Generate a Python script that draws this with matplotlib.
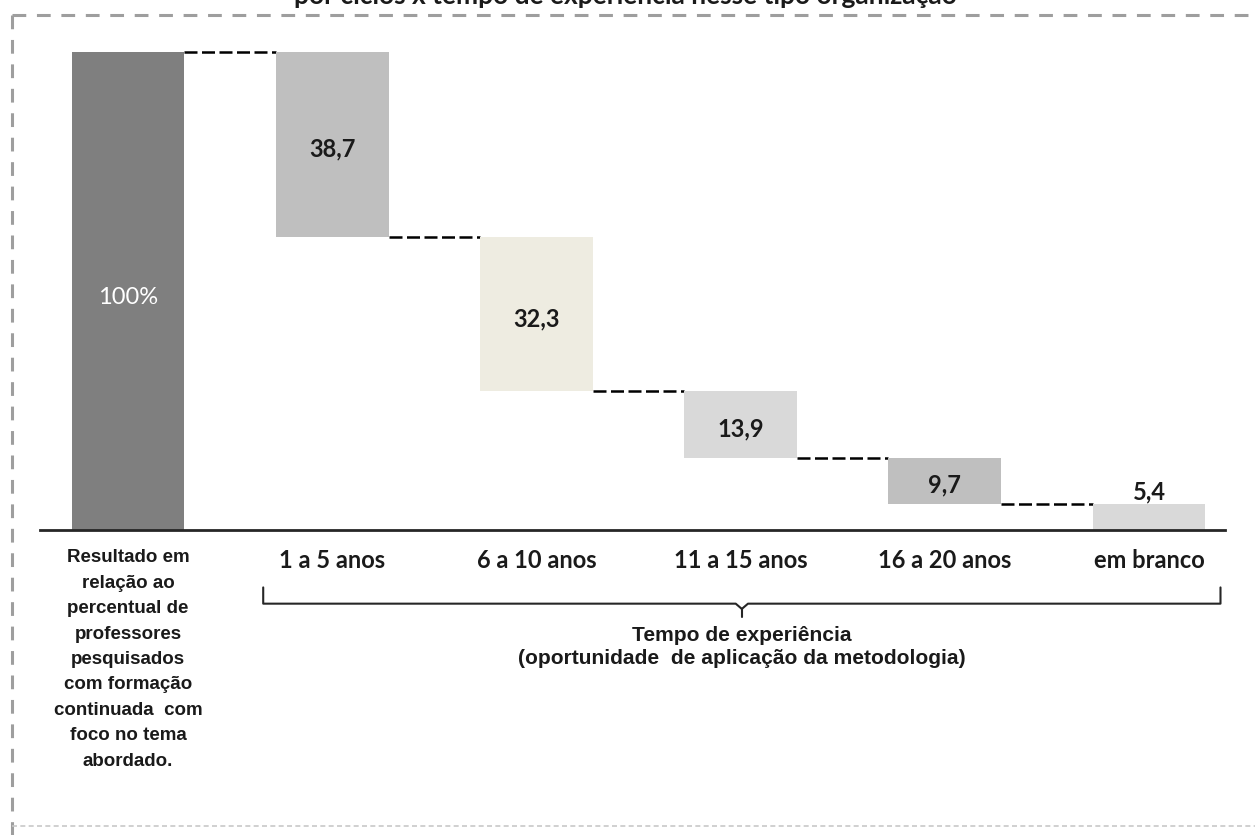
import matplotlib
matplotlib.use("Agg")
import matplotlib.pyplot as plt
from matplotlib.lines import Line2D

# --- data -------------------------------------------------------------
categories = ["Resultado em\nrelação ao\npercentual de\nprofessores\npesquisados\ncom formação\ncontinuada  com\nfoco no tema\nabordado.",
              "1 a 5 anos", "6 a 10 anos", "11 a 15 anos", "16 a 20 anos", "em branco"]
total = 100
steps = [38.7, 32.3, 13.9, 9.7, 5.4]
step_labels = ["38,7", "32,3", "13,9", "9,7", "5,4"]
bar_colors = ["#7f7f7f", "#bfbfbf", "#eeece1", "#d9d9d9", "#bfbfbf", "#d9d9d9"]
group_title = "Tempo de experiência\n(oportunidade  de aplicação da metodologia)"
title = "por ciclos x tempo de experiência nesse tipo organização"

W, H = 1255, 835
fig = plt.figure(figsize=(W / 100, H / 100), dpi=100)
ax = fig.add_axes([0, 0, 1, 1])
ax.set_xlim(-0.627, 5.519)
ax.set_ylim(-63.8, 110.9)
ax.axis("off")

bw = 0.553
txt = "#1a1a1a"
sans = ["Liberation Sans", "DejaVu Sans"]
num = ["Lato", "DejaVu Sans"]

# total bar
ax.bar(0, total, width=bw, color=bar_colors[0], zorder=2)
ax.text(0, total / 2 - 1.3, "100%", color="white", ha="center", va="center",
        fontsize=17, family=num)

# descending steps
level = total
for i, (v, lab) in enumerate(zip(steps, step_labels), start=1):
    bottom = level - v
    ax.bar(i, v, bottom=bottom, width=bw, color=bar_colors[i], zorder=2)
    # connector from previous bar to this one
    ax.plot([i - 1 + bw / 2, i - bw / 2], [level, level], color="black",
            lw=1.8, dashes=(5.2, 1.8), zorder=1)
    if v < 8:
        ax.text(i, level + 2.6, lab, ha="center", va="center", fontsize=17,
                fontweight="bold", color=txt, family=num)
    else:
        ax.text(i, bottom + v / 2 - 0.9, lab, ha="center", va="center",
                fontsize=17, fontweight="bold", color=txt, family=num)
    level = bottom

# baseline
ax.plot([-0.431, 5.372], [0, 0], color="#262626", lw=2, zorder=3)

# category labels
ax.text(0, -4.0, categories[0], ha="center", va="top", fontsize=13.5,
        fontweight="bold", color=txt, family=sans, linespacing=1.65)
for i, c in enumerate(categories[1:], start=1):
    ax.text(i, -6.4, c, ha="center", va="center", fontsize=17,
            fontweight="bold", color=txt, family=num)

# brace spanning the experience categories
bx0, bx1 = 0.662, 5.35
bxm = (bx0 + bx1) / 2
by = -15.4
brace_kw = dict(color="#262626", lw=1.5, solid_joinstyle="round", solid_capstyle="round")
ax.plot([bx0, bx0, bxm - 0.03, bxm], [by + 3.4, by, by, by - 1.1], **brace_kw)
ax.plot([bxm, bxm + 0.03, bx1, bx1], [by - 1.1, by, by, by + 3.4], **brace_kw)
ax.plot([bxm, bxm], [by - 1.1, by - 2.8], **brace_kw)
ax.text(bxm, -20.0, group_title, ha="center", va="top", fontsize=15.1,
        fontweight="bold", color=txt, family=sans, linespacing=1.32)

# dashed frame
frame_kw = dict(color="#9e9e9e", lw=2.2, dashes=(4.5, 3.5))
fig.add_artist(Line2D([12 / W, 1.0], [1 - 15 / H] * 2, transform=fig.transFigure, **frame_kw))
fig.add_artist(Line2D([12 / W] * 2, [1 - 15 / H, 0.0], transform=fig.transFigure, **frame_kw))
fig.add_artist(Line2D([12 / W, 1.0], [1 - 826 / H] * 2, transform=fig.transFigure,
                      color="#c8c8c8", lw=1.2, dashes=(3, 2)))

# title (sits at the upper edge)
fig.text(625 / W, 1 - 4 / H, title, ha="center", va="baseline", fontsize=19,
         fontweight="bold", color=txt, family=num)

fig.savefig("out.png", dpi=100, facecolor="white")
